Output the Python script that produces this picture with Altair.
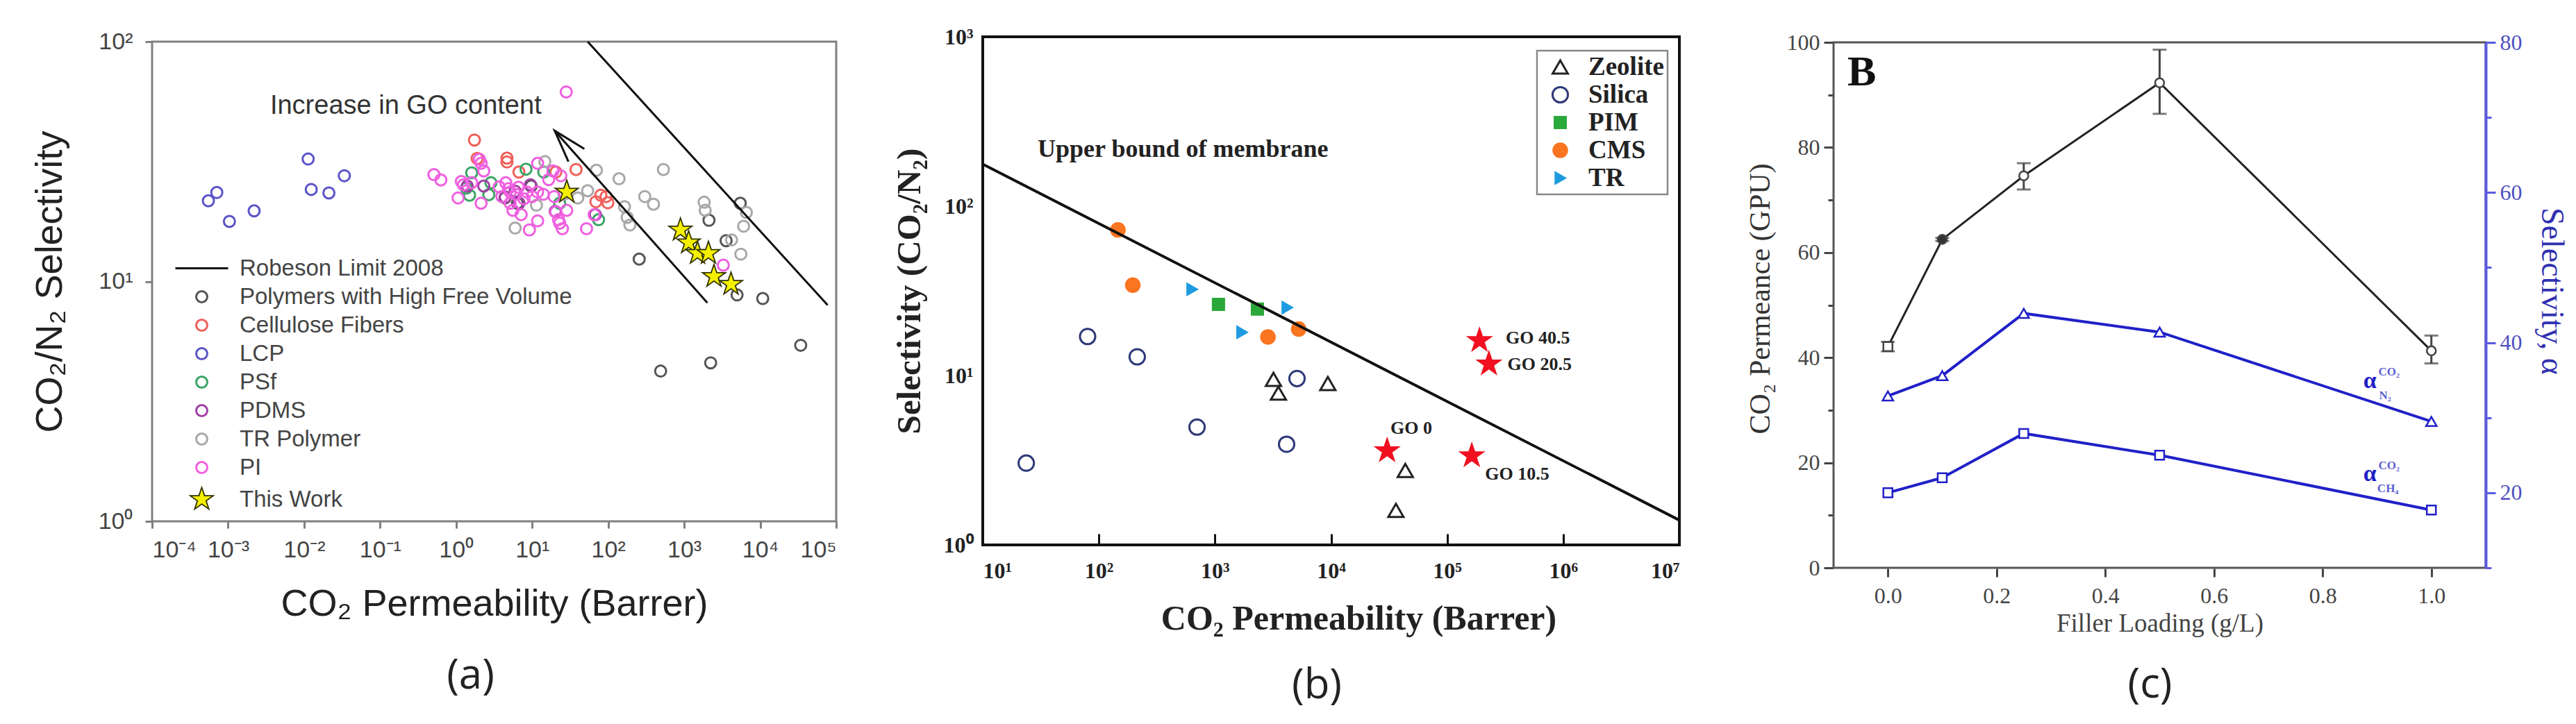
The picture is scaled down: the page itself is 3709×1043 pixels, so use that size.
import json

import altair as alt
import pandas as pd

# ---- panel (a) ----
pfv_x = [256, 490, 2230, 34100, 10800, 4960, 5470, 2120, 3560, 4.4, 9.7, 6.4]
pfv_y = [12.4, 4.23, 4.58, 5.42, 8.49, 8.79, 21.2, 18.0, 14.8, 22.3, 25.0, 21.2]
cel_x = [1.74, 1.89, 4.66, 4.66, 6.7, 37.8, 20.5, 68.9, 80, 94, 99]
cel_y = [38.9, 32.6, 32.7, 31.5, 28.6, 29.3, 28.6, 21.5, 22.9, 22.6, 21.3]
lcp_x = [0.00055, 0.00071, 0.00104, 0.0022, 0.0113, 0.0124, 0.0212, 0.0338]
lcp_y = [21.7, 23.5, 17.8, 19.7, 32.4, 24.2, 23.4, 27.6]
psf_x = [1.6, 1.36, 1.5, 2.87, 2.69, 8.3, 14.2, 6.7, 23, 74.8]
psf_y = [28.4, 24.5, 22.9, 25.8, 23.0, 29.4, 28.6, 21.2, 21.2, 18.1]
pdms_x = [1.4, 2.31, 4.43, 5.97, 9.5, 6.7, 20.1, 67.8]
pdms_y = [25, 25, 22.5, 23.8, 25.3, 21.2, 19.6, 19.0]
trp_x = [5.97, 11.4, 39.8, 53.7, 70, 139, 533, 303, 395, 164, 193, 178, 1830,
         1890, 4200, 6580, 6050, 5570, 14.7, 26.2]
trp_y = [16.7, 20.8, 22.3, 23.9, 29.1, 26.8, 29.3, 22.6, 21.0, 20.5, 17.2, 18.5,
         21.4, 19.8, 14.9, 19.4, 17.0, 13.0, 31.6, 23.1]
pi_x = [0.51, 0.63, 1.06, 1.17, 1.25, 2.13, 2.31, 2.13, 2.02, 3.68, 4.5, 4.89,
        5.14, 5.58, 5.14, 6.07, 7.16, 9.2, 11.8, 11.8, 18.8, 23.8, 16.5, 11.8,
        19.5, 28.5, 20.5, 22.2, 25, 23, 51.9, 65.5, 28.1, 3270, 7.8, 14, 1.6,
        4.0, 10, 6.6, 8.5]
pi_y = [27.9, 26.5, 22.3, 26.1, 25.3, 21.2, 28.9, 31.1, 32.3, 24.8, 25.8, 24.4,
        21.2, 19.8, 23.6, 23.1, 19.0, 16.4, 17.9, 31.1, 28.9, 27.6, 26.6, 23.6,
        22.6, 19.8, 19.5, 18.1, 16.6, 17.5, 16.6, 19.0, 61.7, 11.7, 22.1, 23.1,
        25.8, 22.6, 22.6, 24.7, 23.6]
work_x = [28.5, 893, 1146, 1496, 2085, 2466, 4130]
work_y = [23.6, 16.4, 14.5, 13.1, 13.1, 10.5, 9.74]

robeson_x = [53.7, 77100]
robeson_y = [100, 7.97]
arrow_x = [2018, 19.8, 48.6, 19.8, 30]
arrow_y = [8.15, 42.5, 35.7, 42.5, 31.6]
arrow_part = ["shaft", "shaft", "head", "head", "head"]
arrow_step = [0, 1, 0, 1, 2]

a_names = ["Robeson Limit 2008", "Polymers with High Free Volume", "Cellulose Fibers",
           "LCP", "PSf", "PDMS", "TR Polymer", "PI", "This Work"]
a_strokes = ["#111111", "#555555", "#f0605a", "#5a55c8", "#3aa565", "#a040a5",
             "#a8a8a8", "#f060e0", "#333300"]
a_fills = ["transparent"] * 8 + ["#f5f000"]
STAR = ("M0,-1L0.235,-0.309L0.951,-0.309L0.363,0.118L0.588,0.809L0,0.382"
        "L-0.588,0.809L-0.363,0.118L-0.951,-0.309L-0.235,-0.309Z")
a_shapes = ["M-4,0L4,0"] + ["circle"] * 7 + [STAR]
a_sizes = [361] + [255] * 7 + [1200]
a_widths = [3] * 8 + [1.8]

# ---- panel (b) ----
zeo_x = [3190, 3520, 9380, 43600, 36200]
zeo_y = [9.5, 7.87, 8.97, 2.75, 1.6]
sil_x = [80, 214, 701, 4140, 5090, 23.7]
sil_y = [17, 12.9, 4.96, 3.93, 9.6, 3.04]
pim_x = [1072, 2320]
pim_y = [26.3, 24.7]
cms_x = [146, 196, 2860, 5260]
cms_y = [72.4, 34.2, 16.9, 18.8]
tr_x = [635, 1710, 4190]
tr_y = [32.3, 18, 25.2]
go_x = [190000, 229000, 30400, 163000]
go_y = [16.1, 11.7, 3.6, 3.36]
bound_x = [10, 10000000]
bound_y = [177, 1.4]

b_names = ["Zeolite", "Silica", "PIM", "CMS", "TR"]
b_strokes = ["#222222", "#2f3a78", "#2aa83a", "#f97520", "#1e9be0"]
b_fills = ["transparent", "transparent", "#2aa83a", "#f97520", "#1e9be0"]
b_shapes = ["triangle-up", "circle", "square", "circle", "triangle-right"]
b_sizes = [480, 490, 256, 380, 240]

b_note = ["Upper bound of membrane", "GO 40.5", "GO 20.5", "GO 0", "GO 10.5"]
b_note_x = [29.7, 320000, 331000, 32500, 212000]
b_note_y = [216, 16.7, 11.6, 4.86, 2.62]
b_note_size = [36, 26, 26, 26, 26]

# ---- panel (c) ----
load = [0.0, 0.1, 0.25, 0.5, 1.0]
perm = [42.1, 62.5, 74.6, 92.3, 41.3]
perm_lo = [41.2, 62.2, 72.0, 86.4, 38.9]
perm_hi = [43.0, 62.8, 77.0, 98.6, 44.2]
perm_shape = ["square", "circle", "circle", "circle", "circle"]
perm_fill = ["white", "#333333", "white", "white", "white"]
sel_n2 = [32.9, 35.6, 43.9, 41.4, 29.5]
sel_ch4 = [20.0, 22.0, 27.9, 25.0, 17.7]

c_note = ["B", "α", "α", "CO₂", "CO₂", "N₂", "CH₄"]
c_note_x = [-0.048, 0.887, 0.887, 0.922, 0.922, 0.915, 0.92]
c_note_y = [94.3, 35.6, 17.8, 37.2, 19.4, 32.7, 15.0]
c_note_size = [62, 34, 34, 17, 17, 17, 17]
c_note_color = ["#111111", "#2020c8", "#2020c8", "#6060d0", "#6060d0", "#6060d0", "#6060d0"]

SANS = "Liberation Sans"
SERIF = "Liberation Serif"
SUPER = {"-4": "⁻⁴", "-3": "⁻³", "-2": "⁻²", "-1": "⁻¹", "0": "⁰", "1": "¹",
         "2": "²", "3": "³", "4": "⁴", "5": "⁵", "6": "⁶", "7": "⁷"}
POWER_LABEL = "'10' + " + json.dumps(SUPER) + "['' + round(log(datum.value) / LN10)]"

HEIGHT = 768


def frame(xd, yd, x_enc, y_enc, color, width):
    df = pd.DataFrame({"x0": [xd[0]], "x1": [xd[1]], "y0": [yd[0]], "y1": [yd[1]]})
    return alt.Chart(df).mark_rect(fillOpacity=0, stroke=color, strokeWidth=width).encode(
        x=x_enc("x0:Q"),
        x2="x1:Q",
        y=y_enc("y0:Q"),
        y2="y1:Q",
    )


# panel (a)
a_xdom = [1e-4, 1e5]
a_ydom = [1, 100]
a_xs = alt.Scale(type="log", domain=a_xdom, nice=False)
a_ys = alt.Scale(type="log", domain=a_ydom, range=[700, 9], nice=False)
a_xaxis = alt.Axis(values=[1e-4, 1e-3, 1e-2, 1e-1, 1, 10, 100, 1e3, 1e4, 1e5],
                   labelExpr=POWER_LABEL, grid=False, offset=-68,
                   labelFont=SANS, labelFontSize=34, labelColor="#444444",
                   labelPadding=14, labelOverlap=False, tickSize=10,
                   tickColor="#808080", tickWidth=3, domain=False,
                   titleFont=SANS, titleFontSize=54, titleFontWeight="normal",
                   titleColor="#222222", titlePadding=34)
a_yaxis = alt.Axis(values=[1, 10, 100], labelExpr=POWER_LABEL, grid=False,
                   labelFont=SANS, labelFontSize=34, labelColor="#444444",
                   labelPadding=18, tickSize=10, tickColor="#808080", tickWidth=3,
                   domain=False, titleFont=SANS, titleFontSize=54,
                   titleFontWeight="normal", titleColor="#222222", titlePadding=42)


def a_x(field):
    return alt.X(field, scale=a_xs, axis=a_xaxis, title="CO₂ Permeability (Barrer)")


def a_y(field):
    return alt.Y(field, scale=a_ys, axis=a_yaxis, title="CO₂/N₂ Selectivity")


a_rows = []
for name, xs, ys in [
    (a_names[1], pfv_x, pfv_y), (a_names[2], cel_x, cel_y), (a_names[3], lcp_x, lcp_y),
    (a_names[4], psf_x, psf_y), (a_names[5], pdms_x, pdms_y), (a_names[6], trp_x, trp_y),
    (a_names[7], pi_x, pi_y), (a_names[8], work_x, work_y),
]:
    a_rows += [{"series": name, "p": p, "s": s} for p, s in zip(xs, ys)]
a_df = pd.DataFrame(a_rows)
a_legend = alt.Legend(title=None, orient="none", legendX=53, legendY=319,
                      labelFont=SANS, labelFontSize=33, labelColor="#444444",
                      labelOffset=36, rowPadding=7, labelLimit=700)

a_points = alt.Chart(a_df).mark_point(opacity=1).encode(
    x=a_x("p:Q"),
    y=a_y("s:Q"),
    stroke=alt.Stroke("series:N", scale=alt.Scale(domain=a_names, range=a_strokes), legend=a_legend),
    fill=alt.Fill("series:N", scale=alt.Scale(domain=a_names, range=a_fills), legend=a_legend),
    shape=alt.Shape("series:N", scale=alt.Scale(domain=a_names, range=a_shapes), legend=a_legend),
    size=alt.Size("series:N", scale=alt.Scale(type="ordinal", domain=a_names, range=a_sizes), legend=a_legend),
    strokeWidth=alt.StrokeWidth("series:N", scale=alt.Scale(type="ordinal", domain=a_names, range=a_widths), legend=a_legend),
)

a_robeson = alt.Chart(pd.DataFrame({"p": robeson_x, "s": robeson_y})).mark_line(
    color="#111111", strokeWidth=3
).encode(x=a_x("p:Q"), y=a_y("s:Q"))

a_arrow = alt.Chart(pd.DataFrame({"p": arrow_x, "s": arrow_y, "part": arrow_part, "step": arrow_step})).mark_line(
    color="#111111", strokeWidth=3
).encode(x=a_x("p:Q"), y=a_y("s:Q"), detail="part:N", order="step:Q")

a_text = alt.Chart(pd.DataFrame({"p": [0.00357], "s": [53.7], "t": ["Increase in GO content"]})).mark_text(
    align="left", font=SANS, fontSize=38, color="#333333"
).encode(x=a_x("p:Q"), y=a_y("s:Q"), text="t:N")

panel_a = alt.layer(
    a_points, frame(a_xdom, a_ydom, a_x, a_y, "#808080", 3), a_robeson, a_arrow, a_text
).properties(
    width=985, height=HEIGHT,
    title=alt.TitleParams("(a)", orient="bottom", anchor="middle", dx=-34, offset=48,
                          font="Open Sans", fontSize=60, fontWeight="normal", color="#222222"),
)

# panel (b)
b_xdom = [10, 1e7]
b_ydom = [1, 1000]
b_xs = alt.Scale(type="log", domain=b_xdom, range=[0, 1003], nice=False)
b_ys = alt.Scale(type="log", domain=b_ydom, range=[734, 2], nice=False)
# ticks point into the plot: the axis sits one tick length above the frame's bottom edge
b_xaxis = alt.Axis(values=[10, 100, 1e3, 1e4, 1e5, 1e6, 1e7], labelExpr=POWER_LABEL,
                   grid=False, offset=-50, labelFont=SERIF, labelFontSize=32,
                   labelFontWeight="bold", labelColor="#222222", labelPadding=22,
                   labelOverlap=False, tickSize=16, tickColor="#111111", tickWidth=3,
                   domain=False, titleFont=SERIF, titleFontSize=50, titleX=541,
                   titleColor="#222222", titlePadding=28)
b_yaxis = alt.Axis(values=[1, 10, 100, 1000], labelExpr=POWER_LABEL, grid=False,
                   labelFont=SERIF, labelFontSize=32, labelFontWeight="bold",
                   labelColor="#222222", labelPadding=14, tickSize=0, domain=False,
                   titleFont=SERIF, titleFontSize=49, titleColor="#222222",
                   titlePadding=24)


def b_x(field):
    return alt.X(field, scale=b_xs, axis=b_xaxis, title="CO₂ Permeability (Barrer)")


def b_y(field):
    return alt.Y(field, scale=b_ys, axis=b_yaxis, title="Selectivity (CO₂/N₂)")


b_rows = []
for name, xs, ys in zip(b_names, [zeo_x, sil_x, pim_x, cms_x, tr_x], [zeo_y, sil_y, pim_y, cms_y, tr_y]):
    b_rows += [{"series": name, "p": p, "s": s} for p, s in zip(xs, ys)]
b_df = pd.DataFrame(b_rows)
b_legend = alt.Legend(title=None, orient="none", legendX=798, legendY=22, labelFont=SERIF,
                      labelFontSize=37, labelFontWeight="bold", labelColor="#222222",
                      strokeColor="#888888", padding=5, rowPadding=2, labelOffset=22,
                      symbolOffset=10, symbolStrokeWidth=3)

b_points = alt.Chart(b_df).mark_point(strokeWidth=3, opacity=1).encode(
    x=b_x("p:Q"),
    y=b_y("s:Q"),
    stroke=alt.Stroke("series:N", scale=alt.Scale(domain=b_names, range=b_strokes), legend=b_legend),
    fill=alt.Fill("series:N", scale=alt.Scale(domain=b_names, range=b_fills), legend=b_legend),
    shape=alt.Shape("series:N", scale=alt.Scale(domain=b_names, range=b_shapes), legend=b_legend),
    size=alt.Size("series:N", scale=alt.Scale(type="ordinal", domain=b_names, range=b_sizes), legend=b_legend),
)

b_line = alt.Chart(pd.DataFrame({"p": bound_x, "s": bound_y})).mark_line(
    color="#111111", strokeWidth=4
).encode(x=b_x("p:Q"), y=b_y("s:Q"))

b_stars = alt.Chart(pd.DataFrame({"p": go_x, "s": go_y})).mark_point(
    shape=STAR, size=1700, filled=True, color="#f01020", opacity=1
).encode(x=b_x("p:Q"), y=b_y("s:Q"))

b_text = alt.Chart(pd.DataFrame({"p": b_note_x, "s": b_note_y, "t": b_note, "fs": b_note_size})).mark_text(
    align="left", font=SERIF, fontWeight="bold", color="#222222"
).encode(x=b_x("p:Q"), y=b_y("s:Q"), text="t:N", size=alt.Size("fs:Q", scale=None))

panel_b = alt.layer(
    b_points, frame(b_xdom, b_ydom, b_x, b_y, "#111111", 4), b_line, b_stars, b_text
).properties(
    width=1014, height=HEIGHT,
    title=alt.TitleParams("(b)", orient="bottom", anchor="middle", dx=-26, offset=43,
                          font="Open Sans", fontSize=60, fontWeight="normal", color="#222222"),
)

# panel (c)
c_xdom = [-0.1, 1.1]
c_ydom = [0, 100]
c_rdom = [10, 80]
c_xs = alt.Scale(domain=c_xdom, nice=False)
c_ys = alt.Scale(domain=c_ydom, range=[767, 10], nice=False)
c_rs = alt.Scale(domain=c_rdom, range=[767, 10], nice=False)
c_df = pd.DataFrame({"x": load, "perm": perm, "lo": perm_lo, "hi": perm_hi,
                     "shape": perm_shape, "face": perm_fill,
                     "n2": sel_n2, "ch4": sel_ch4})
MAJOR_TICK = {"condition": {"test": "datum.value % 20 == 0", "value": 14}, "value": 8}
c_xaxis = alt.Axis(values=[0, 0.2, 0.4, 0.6, 0.8, 1.0], format=".1f", grid=False,
                   labelFont=SERIF, labelFontSize=32, labelColor="#444444",
                   labelPadding=12, tickSize=12, tickColor="#444444", tickWidth=3,
                   domain=False, titleFont=SERIF, titleFontSize=37,
                   titleFontWeight="normal", titleColor="#444444", titlePadding=6)
c_yaxis = alt.Axis(values=list(range(0, 101, 10)), labelExpr="datum.value % 20 == 0 ? datum.label : ''",
                   grid=False, labelFont=SERIF, labelFontSize=32, labelColor="#444444",
                   labelPadding=6, labelOverlap=False, tickSize=MAJOR_TICK,
                   tickColor="#444444", tickWidth=3, domain=False, titleFont=SERIF,
                   titleFontSize=42, titleFontWeight="normal", titleColor="#333333",
                   titlePadding=16, titleY=379)
c_raxis = alt.Axis(orient="right", values=list(range(10, 81, 10)),
                   labelExpr="datum.value % 20 == 0 ? datum.label : ''", grid=False,
                   labelFont=SERIF, labelFontSize=32, labelColor="#5050c0", labelPadding=6,
                   labelOverlap=False, domainColor="#5a5ae0", domainWidth=4,
                   tickSize=MAJOR_TICK, tickColor="#5a5ae0", tickWidth=3, zindex=1,
                   titleFont=SERIF, titleFontSize=46, titleFontWeight="normal",
                   titleColor="#3030b0", titlePadding=18, titleY=368)


def c_x(field):
    return alt.X(field, scale=c_xs, axis=c_xaxis, title="Filler Loading (g/L)")


def c_y(field):
    return alt.Y(field, scale=c_ys, axis=c_yaxis, title="CO₂ Permeance (GPU)")


def c_r(field):
    return alt.Y(field, scale=c_rs, axis=c_raxis, title="Selectivity, α")


c_left_line = alt.Chart(c_df).mark_line(color="#222222", strokeWidth=3).encode(
    x=c_x("x:Q"), y=c_y("perm:Q"))
c_rule = alt.Chart(c_df).mark_rule(color="#444444", strokeWidth=3).encode(
    x=c_x("x:Q"), y=c_y("lo:Q"), y2="hi:Q")
c_cap_lo = alt.Chart(c_df).mark_tick(color="#444444", thickness=3, size=20, orient="horizontal").encode(
    x=c_x("x:Q"), y=c_y("lo:Q"))
c_cap_hi = alt.Chart(c_df).mark_tick(color="#444444", thickness=3, size=20, orient="horizontal").encode(
    x=c_x("x:Q"), y=c_y("hi:Q"))
c_dots = alt.Chart(c_df).mark_point(stroke="#444444", strokeWidth=2.5, size=170, opacity=1).encode(
    x=c_x("x:Q"),
    y=c_y("perm:Q"),
    shape=alt.Shape("shape:N", scale=None),
    fill=alt.Fill("face:N", scale=None),
)
c_text = alt.Chart(pd.DataFrame({"x": c_note_x, "y": c_note_y, "t": c_note, "fs": c_note_size, "col": c_note_color})).mark_text(
    font=SERIF, fontWeight="bold"
).encode(
    x=c_x("x:Q"),
    y=c_y("y:Q"),
    text="t:N",
    size=alt.Size("fs:Q", scale=None),
    color=alt.Color("col:N", scale=None),
)
c_left = alt.layer(
    frame(c_xdom, c_ydom, c_x, c_y, "#555555", 3), c_left_line, c_rule, c_cap_lo, c_cap_hi, c_dots, c_text
)

BLUE = "#2020c8"
c_n2_line = alt.Chart(c_df).mark_line(color=BLUE, strokeWidth=4).encode(x=c_x("x:Q"), y=c_r("n2:Q"))
c_n2_pts = alt.Chart(c_df).mark_point(shape="triangle-up", size=230, stroke=BLUE, strokeWidth=2.5, fill="white", opacity=1).encode(
    x=c_x("x:Q"), y=c_r("n2:Q"))
c_ch4_line = alt.Chart(c_df).mark_line(color=BLUE, strokeWidth=4).encode(x=c_x("x:Q"), y=c_r("ch4:Q"))
c_ch4_pts = alt.Chart(c_df).mark_point(shape="square", size=170, stroke=BLUE, strokeWidth=2.5, fill="white", opacity=1).encode(
    x=c_x("x:Q"), y=c_r("ch4:Q"))
c_right = alt.layer(c_n2_line, c_n2_pts, c_ch4_line, c_ch4_pts)

panel_c = alt.layer(c_left, c_right).resolve_scale(y="independent").properties(
    width=939, height=HEIGHT,
    title=alt.TitleParams("(c)", orient="bottom", anchor="middle", dx=-14, offset=42,
                          font="Open Sans", fontSize=60, fontWeight="normal", color="#222222"),
)

chart = alt.hconcat(
    panel_a, panel_b, panel_c, spacing=211, bounds="flush"
).resolve_scale(
    stroke="independent", fill="independent", shape="independent", size="independent",
    color="independent", strokeWidth="independent",
).resolve_legend(
    stroke="independent", fill="independent", shape="independent", size="independent",
    strokeWidth="independent",
).properties(
    padding={"left": 37, "top": 29, "right": 5, "bottom": 5}
).configure_view(stroke=None).configure_legend(strokeWidth=2.5)

chart.save("out.html", embed_options={"renderer": "svg", "actions": False})
